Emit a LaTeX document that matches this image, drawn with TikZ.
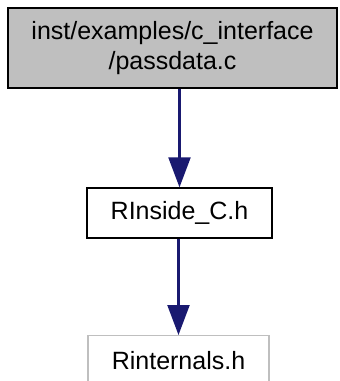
\documentclass[tikz,border=0pt]{standalone}
\usepackage{fontspec}
\setmainfont{Liberation Sans}
\usetikzlibrary{arrows.meta}
\definecolor{nodegray}{RGB}{191,191,191}
\definecolor{edgeblue}{RGB}{25,25,112}
\begin{document}
\begin{tikzpicture}[x=1pt,y=1pt,
  box/.style={draw=black, line width=1.3pt, inner sep=0pt, align=center,
    font=\fontsize{25}{30}\selectfont},
  arr/.style={draw=edgeblue, line width=2.2pt,
    -{Triangle[length=30pt,width=22pt,fill=edgeblue]}}]
\useasboundingbox (0,0) rectangle (340,-381);
\node[box, fill=nodegray, minimum width=329pt, minimum height=80pt] (a) at (172.5,-48) {inst/examples/c\_interface\\/passdata.c};
\node[box, fill=white, minimum width=185pt, minimum height=50pt] (b) at (179.5,-213) {RInside\_C.h};
\node[box, draw=nodegray, fill=white, minimum width=181pt, minimum height=50pt, anchor=north] (c) at (178.5,-335) {Rinternals.h};
\draw[arr] (b.north |- a.south) -- (b.north);
\draw[arr] (c.north |- b.south) -- (c.north);
\end{tikzpicture}
\end{document}
